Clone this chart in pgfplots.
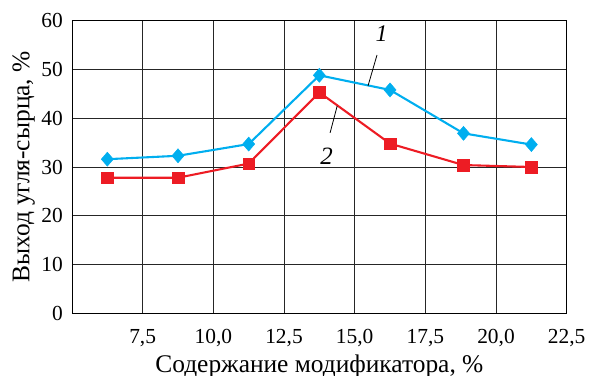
\documentclass[border=0pt]{standalone}
\usepackage{fontspec}
\setmainfont{Liberation Serif}
\usepackage{pgfplots}
\pgfplotsset{compat=1.18}
\definecolor{cblue}{RGB}{0,174,239}
\definecolor{cred}{RGB}{237,28,36}
\begin{document}
\fontsize{21}{24}\selectfont
\begin{tikzpicture}
\useasboundingbox (-72bp,-62.7bp) rectangle (517bp,313.3bp);
\begin{axis}[
  at={(0,0)}, anchor=south west,
  scale only axis, width=494.7bp, height=292.6bp,
  xmin=5, xmax=22.5, ymin=0, ymax=60,
  xtick={7.5,10,12.5,15,17.5,20,22.5},
  xticklabels={{7,5},{10,0},{12,5},{15,0},{17,5},{20,0},{22,5}},
  ytick={0,10,20,30,40,50,60},
  /pgf/number format/assume math mode=true,
  grid=major,
  major grid style={black!85, line width=0.9pt},
  axis line style={black, line width=1pt},
  major tick length=0pt,
  tick label style={font=\fontsize{21.5}{24}\selectfont},
  label style={font=\fontsize{25.5}{28}\selectfont},
  xticklabel style={anchor=base, yshift=-30bp, inner sep=0pt},
  yticklabel style={anchor=east, inner sep=0pt, xshift=-9bp},
  xlabel={Содержание модификатора, \%},
  ylabel={Выход угля-сырца, \%},
  xlabel style={at={(axis description cs:0.5,0)}, anchor=base, yshift=-58.7bp, inner sep=0pt},
  ylabel style={at={(axis description cs:0,0.5)}, anchor=base, yshift=42.7bp, inner sep=0pt},
  clip=false,
]
\addplot[color=cblue, line width=2.1pt, mark=diamond*, mark size=7bp,
  mark options={fill=cblue, draw=cblue, line width=0.5pt, xscale=1.15}]
  coordinates {(6.25,31.6) (8.75,32.3) (11.25,34.7) (13.75,48.8) (16.25,45.8) (18.85,36.9) (21.25,34.6)};
\addplot[color=cred, line width=2.1pt, mark=square*, mark size=5.8bp,
  mark options={fill=cred, draw=cred, line width=0.5pt}]
  coordinates {(6.25,27.8) (8.75,27.8) (11.25,30.7) (13.75,45.3) (16.25,34.8) (18.85,30.4) (21.25,30.0)};
\draw[black, line width=0.8pt] (axis cs:15.79,52.98) -- (axis cs:15.47,46.6);
\node[font=\fontsize{24}{26}\selectfont\itshape] at (axis cs:15.95,57.3) {1};
\draw[black, line width=0.8pt] (axis cs:14.13,37.0) -- (axis cs:14.38,42.5);
\node[font=\fontsize{25}{26}\selectfont\itshape] at (axis cs:14.01,32.3) {2};
\end{axis}
\end{tikzpicture}
\end{document}
